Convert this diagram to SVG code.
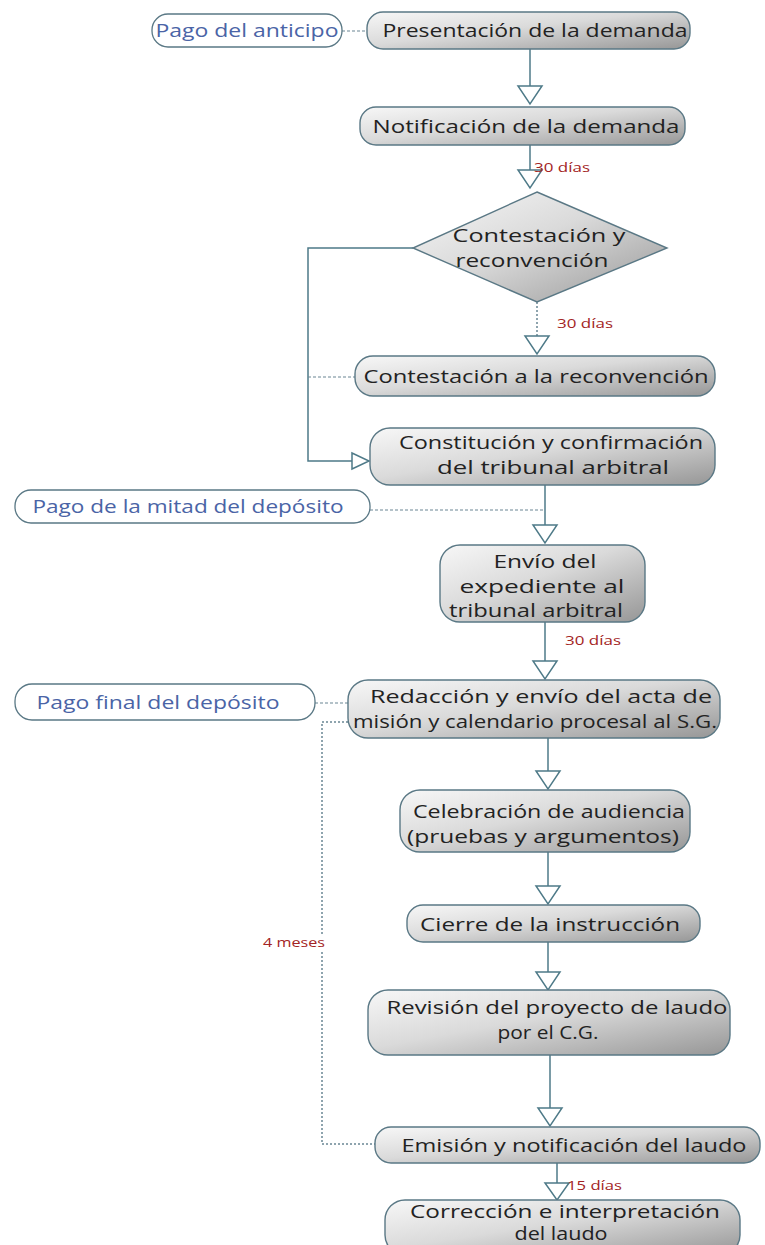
<svg xmlns="http://www.w3.org/2000/svg" width="765" height="1245" viewBox="0 0 765 1245">
<defs>
<linearGradient id="g" x1="0" y1="0" x2="1" y2="1">
<stop offset="0" stop-color="#f7f7f7"/>
<stop offset="0.45" stop-color="#dadada"/>
<stop offset="1" stop-color="#969696"/>
</linearGradient>
</defs>
<style>
.box{fill:url(#g);stroke:#5a7885;stroke-width:1.4}
.pay{fill:#fff;stroke:#5a7885;stroke-width:1.3}
.t{font-family:"Open Sans","Lato",sans-serif;font-size:18.5px;fill:#222;text-anchor:middle}
.s{font-size:18px}
.b{font-family:"Open Sans","Lato",sans-serif;font-size:18.5px;fill:#4a64a6;text-anchor:middle}
.r{font-family:"Open Sans","Lato",sans-serif;font-size:13px;fill:#a32424}
.ln{stroke:#4e7a88;stroke-width:1.5;fill:none}
.dash{stroke:#6a8694;stroke-width:1.2;stroke-dasharray:3,2;fill:none}
.dot{stroke:#6a8694;stroke-width:1.5;stroke-dasharray:2,2;fill:none}
.tri{fill:#fff;stroke:#4e7a88;stroke-width:1.5}
</style>

<g id="connectors">
<line class="dash" x1="342" y1="31" x2="367" y2="31"/>
<line class="ln" x1="530" y1="49" x2="530" y2="86"/>
<path class="tri" d="M518,86 L542,86 L530,104 Z"/>
<line class="ln" x1="530" y1="145" x2="530" y2="170"/>
<path class="tri" d="M518,170 L542,170 L530,188 Z"/>
<text class="r" x="534" y="172" textLength="56" lengthAdjust="spacingAndGlyphs">30 días</text>
<polyline class="ln" points="413,248 308,248 308,461 352,461"/>
<path class="tri" d="M352,453 L352,469 L369,461 Z"/>
<line class="dot" x1="537" y1="302" x2="537" y2="336"/>
<path class="tri" d="M525,336 L549,336 L537,354 Z"/>
<text class="r" x="557" y="328" textLength="56" lengthAdjust="spacingAndGlyphs">30 días</text>
<line class="dash" x1="308" y1="377" x2="355" y2="377"/>
<line class="dash" x1="370" y1="510" x2="545" y2="510"/>
<line class="ln" x1="545" y1="485" x2="545" y2="525"/>
<path class="tri" d="M533,525 L557,525 L545,543 Z"/>
<line class="ln" x1="545" y1="622" x2="545" y2="661"/>
<path class="tri" d="M533,661 L557,661 L545,679 Z"/>
<text class="r" x="565" y="645" textLength="56" lengthAdjust="spacingAndGlyphs">30 días</text>
<line class="dash" x1="315" y1="703" x2="348" y2="703"/>
<polyline class="dot" points="348,722 322,722 322,1144 377,1144"/>
<rect x="262" y="934" width="66" height="17" fill="#fff"/>
<text class="r" x="263" y="947" textLength="62" lengthAdjust="spacingAndGlyphs">4 meses</text>
<line class="ln" x1="548" y1="738" x2="548" y2="771"/>
<path class="tri" d="M536,771 L560,771 L548,789 Z"/>
<line class="ln" x1="548" y1="852" x2="548" y2="886"/>
<path class="tri" d="M536,886 L560,886 L548,904 Z"/>
<line class="ln" x1="548" y1="942" x2="548" y2="972"/>
<path class="tri" d="M536,972 L560,972 L548,990 Z"/>
<line class="ln" x1="550" y1="1055" x2="550" y2="1108"/>
<path class="tri" d="M538,1108 L562,1108 L550,1126 Z"/>
<line class="ln" x1="557" y1="1163" x2="557" y2="1183"/>
<path class="tri" d="M545,1183 L569,1183 L557,1200 Z"/>
<text class="r" x="567" y="1190" textLength="55" lengthAdjust="spacingAndGlyphs">15 días</text>
</g>

<g id="n-anticipo"><rect class="pay" x="152" y="14" width="190" height="33" rx="16"/><text class="b" x="247" y="37" textLength="183" lengthAdjust="spacingAndGlyphs">Pago del anticipo</text></g>
<g id="n-presentacion"><rect class="box" x="367" y="12" width="323" height="37" rx="16"/><text class="t" x="535" y="37" textLength="305" lengthAdjust="spacingAndGlyphs">Presentación de la demanda</text></g>
<g id="n-notificacion"><rect class="box" x="360" y="107" width="325" height="38" rx="16"/><text class="t" x="526" y="133" textLength="307" lengthAdjust="spacingAndGlyphs">Notificación de la demanda</text></g>
<g id="n-contestacion"><polygon class="box" points="537,192 667,248 537,302 413,248"/><text class="t" x="539" y="242" textLength="173" lengthAdjust="spacingAndGlyphs">Contestación y</text><text class="t" x="532" y="267" textLength="153" lengthAdjust="spacingAndGlyphs">reconvención</text></g>
<g id="n-contrarec"><rect class="box" x="355" y="356" width="360" height="40" rx="18"/><text class="t" x="536" y="383" textLength="345" lengthAdjust="spacingAndGlyphs">Contestación a la reconvención</text></g>
<g id="n-constitucion"><rect class="box" x="370" y="428" width="345" height="57" rx="20"/><text class="t" x="551" y="449" textLength="304" lengthAdjust="spacingAndGlyphs">Constitución y confirmación</text><text class="t" x="553" y="474" textLength="232" lengthAdjust="spacingAndGlyphs">del tribunal arbitral</text></g>
<g id="n-mitad"><rect class="pay" x="15" y="490" width="355" height="33" rx="16"/><text class="b" x="188" y="513" textLength="311" lengthAdjust="spacingAndGlyphs">Pago de la mitad del depósito</text></g>
<g id="n-envio"><rect class="box" x="440" y="545" width="205" height="77" rx="20"/><text class="t s" x="545" y="568" textLength="103" lengthAdjust="spacingAndGlyphs">Envío del</text><text class="t s" x="542" y="592.5" textLength="165" lengthAdjust="spacingAndGlyphs">expediente al</text><text class="t s" x="536" y="617" textLength="174" lengthAdjust="spacingAndGlyphs">tribunal arbitral</text></g>
<g id="n-final"><rect class="pay" x="15" y="684" width="300" height="36" rx="17"/><text class="b" x="158" y="709" textLength="243" lengthAdjust="spacingAndGlyphs">Pago final del depósito</text></g>
<g id="n-redaccion"><rect class="box" x="348" y="680" width="372" height="58" rx="20"/><text class="t" x="541" y="703" textLength="342" lengthAdjust="spacingAndGlyphs">Redacción y envío del acta de</text><text class="t" x="535" y="728" textLength="364" lengthAdjust="spacingAndGlyphs">misión y calendario procesal al S.G.</text></g>
<g id="n-celebracion"><rect class="box" x="400" y="790" width="290" height="62" rx="20"/><text class="t" x="549" y="818" textLength="272" lengthAdjust="spacingAndGlyphs">Celebración de audiencia</text><text class="t" x="543" y="843" textLength="272" lengthAdjust="spacingAndGlyphs">(pruebas y argumentos)</text></g>
<g id="n-cierre"><rect class="box" x="407" y="905" width="293" height="37" rx="16"/><text class="t" x="550" y="931" textLength="260" lengthAdjust="spacingAndGlyphs">Cierre de la instrucción</text></g>
<g id="n-revision"><rect class="box" x="368" y="990" width="362" height="65" rx="20"/><text class="t" x="557" y="1014" textLength="341" lengthAdjust="spacingAndGlyphs">Revisión del proyecto de laudo</text><text class="t" x="548" y="1039" textLength="101" lengthAdjust="spacingAndGlyphs">por el C.G.</text></g>
<g id="n-emision"><rect class="box" x="375" y="1127" width="385" height="36" rx="16"/><text class="t" x="574" y="1152" textLength="345" lengthAdjust="spacingAndGlyphs">Emisión y notificación del laudo</text></g>
<g id="n-correccion"><rect class="box" x="385" y="1200" width="355" height="55" rx="20"/><text class="t s" x="565" y="1218" textLength="310" lengthAdjust="spacingAndGlyphs">Corrección e interpretación</text><text class="t s" x="561" y="1240" textLength="93" lengthAdjust="spacingAndGlyphs">del laudo</text></g>
</svg>
